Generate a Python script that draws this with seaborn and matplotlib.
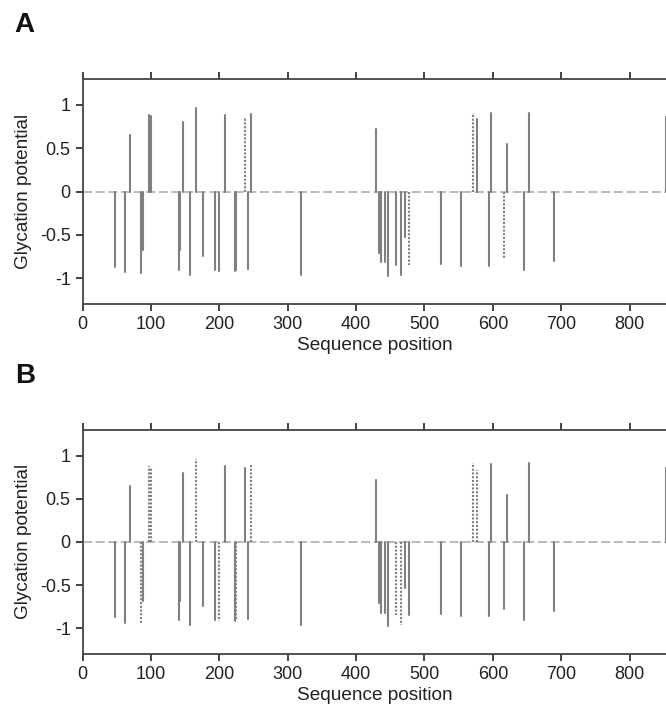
import seaborn as sns
import pandas as pd
from matplotlib import pyplot as plt

# Stem positions (sequence position) and glycation potential values
positions = [47, 62, 70, 85, 89, 97, 100, 141, 143, 147, 157, 166, 176, 194, 200,
             208, 223, 225, 237, 242, 247, 320, 429, 434, 437, 443, 446, 459, 465,
             472, 477, 524, 554, 571, 577, 595, 598, 616, 621, 646, 653, 689, 853]
potential = [-0.87, -0.935, 0.65, -0.94, -0.68, 0.885, 0.875, -0.91, -0.68, 0.80,
             -0.965, 0.96, -0.74, -0.91, -0.92, 0.885, -0.92, -0.91, 0.855, -0.89,
             0.90, -0.96, 0.72, -0.705, -0.82, -0.82, -0.98, -0.845, -0.96, -0.53,
             -0.845, -0.84, -0.86, 0.91, 0.84, -0.86, 0.905, -0.78, 0.55, -0.91,
             0.91, -0.80, 0.86]
# line kind per stem for each panel
kind_a = ['solid'] * len(positions)
for i in [18, 30, 33, 37]:
    kind_a[i] = 'dotted'
kind_b = ['solid'] * len(positions)
for i in [3, 5, 6, 11, 14, 17, 20, 27, 28, 33, 34]:
    kind_b[i] = 'dotted'

panels = [('A', kind_a), ('B', kind_b)]

sns.set_theme(style='ticks')
plt.rcParams['font.family'] = ['Liberation Sans', 'DejaVu Sans']

fig = plt.figure(figsize=(6.66, 7.11), dpi=100)
boxes = [[0.1239, 0.5724, 0.878, 0.3165], [0.1239, 0.0802, 0.878, 0.3152]]
letters_y = [0.955, 0.462]

for (name, kinds), box, ly in zip(panels, boxes, letters_y):
    ax = fig.add_axes(box)
    # two rows per stem: base at zero and tip at the value
    rows = []
    for i, (p, v, k) in enumerate(zip(positions, potential, kinds)):
        rows.append({'pos': p, 'val': 0.0, 'stem': i, 'kind': k})
        rows.append({'pos': p, 'val': v, 'stem': i, 'kind': k})
    df = pd.DataFrame(rows)
    ax.axhline(0, color='#b5b5b5', lw=1.3, dashes=(5, 2), zorder=1)
    sns.lineplot(data=df, x='pos', y='val', units='stem', estimator=None,
                 style='kind', dashes={'solid': '', 'dotted': (1.0, 0.8)},
                 color='#808080', linewidth=1.5, sort=False, legend=False, ax=ax)
    ax.set_xlim(0, 855)
    ax.set_ylim(-1.3, 1.3)
    ax.set_xticks(range(0, 900, 100))
    ax.set_yticks([-1, -0.5, 0, 0.5, 1])
    ax.set_yticklabels(['-1', '-0.5', '0', '0.5', '1'])
    ax.tick_params(axis='x', top=True, direction='out', length=5, width=1.2,
                   labelsize=13, colors='#222222')
    ax.tick_params(axis='y', direction='out', length=5, width=1.2,
                   labelsize=13, colors='#222222')
    ax.set_xlabel('Sequence position', size=13.7, color='#222222', labelpad=3)
    ax.set_ylabel('Glycation potential', size=13.7, color='#222222', labelpad=6)
    for s in ax.spines.values():
        s.set_color('#444444')
        s.set_linewidth(1.3)
    fig.text(0.022, ly, name, fontsize=20, fontweight='bold', color='#111111')

plt.savefig('out.png', dpi=100)
